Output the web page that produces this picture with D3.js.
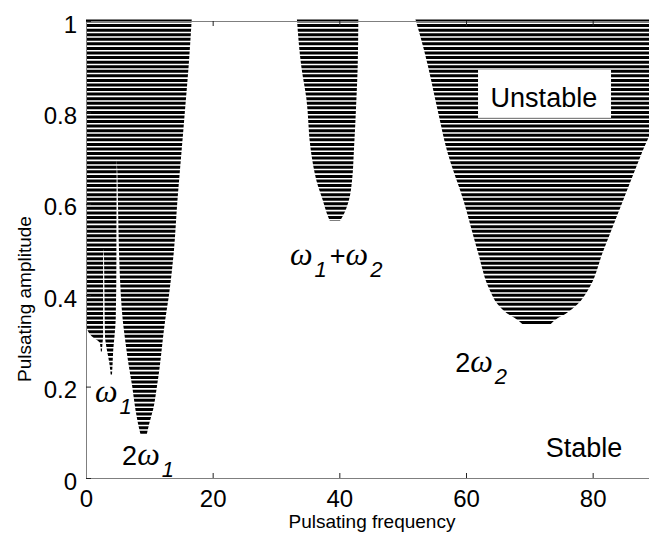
<!DOCTYPE html>
<html>
<head>
<meta charset="UTF-8">
<title>Pulsating stability chart</title>
<script src="https://cdn.jsdelivr.net/npm/d3@7"></script>
<style>
  body { margin: 0; background: #fff; }
  text { font-family: "Liberation Sans", Arial, sans-serif; }
</style>
</head>
<body>
<script>
// tick labels
var xTicks = [0, 20, 40, 60, 80];
var yTicks = [0, 0.2, 0.4, 0.6, 0.8, 1];

// unstable tongues: [amplitude, left frequency, right frequency]
var leftBand = [
  [1.00, 0, 2.7], [0.50, 0, 2.7], [0.35, 0, 2.7], [0.33, 0.1, 2.7],
  [0.31, 0.9, 2.7], [0.295, 2.2, 2.6], [0.28, 2.35, 2.5]
];
var omega1 = [
  [1.00, 2.6, 4.85], [0.70, 2.6, 4.85], [0.52, 2.6, 4.8], [0.48, 2.85, 4.8],
  [0.35, 2.95, 4.7], [0.31, 3.0, 4.5], [0.28, 3.3, 4.3], [0.25, 3.7, 4.2],
  [0.23, 3.9, 4.1]
];
var twoOmega1 = [
  [1.00, 4.8, 16.7], [0.90, 4.8, 16.2], [0.80, 4.8, 15.6], [0.70, 4.85, 15.0],
  [0.668, 4.95, 14.8], [0.60, 5.05, 14.4], [0.50, 5.2, 13.9], [0.40, 5.5, 13.1],
  [0.345, 5.8, 12.5], [0.30, 6.2, 12.1], [0.25, 6.7, 11.7], [0.20, 7.3, 11.2],
  [0.15, 7.8, 10.6], [0.12, 8.2, 10.0], [0.10, 8.6, 9.6]
];
var omegaSum = [
  [1.00, 33.3, 43.0], [0.90, 34.0, 42.9], [0.83, 34.8, 42.7], [0.716, 35.5, 42.3],
  [0.65, 36.4, 42.0], [0.607, 37.4, 41.5], [0.58, 38.0, 40.8], [0.567, 38.5, 40.1]
];
var twoOmega2 = [
  [1.00, 52.0, 95.0], [0.935, 53.4, 93.0], [0.80, 55.6, 90.5], [0.716, 57.0, 87.9],
  [0.607, 59.6, 84.8], [0.498, 61.8, 81.7], [0.41, 63.8, 79.2], [0.38, 65.0, 77.6],
  [0.36, 66.5, 75.8], [0.35, 67.7, 74.5], [0.34, 69.0, 73.3]
];
var tongues = [leftBand, omega1, twoOmega1, omegaSum, twoOmega2];

var width = 649, height = 540;
var x = d3.scaleLinear().domain([0, 90]).range([86, 656]);
var y = d3.scaleLinear().domain([0, 1]).range([478, 21]);

var svg = d3.select("body").append("svg")
  .attr("width", width)
  .attr("height", height);

// region outlines used as clip for the hatching
var area = d3.area()
  .curve(d3.curveMonotoneY)
  .y(function (d, i, arr) {
    // let the first and last stripe show in full
    var pad = i === 0 ? -2 : (i === arr.length - 1 ? 2 : 0);
    return y(d[0]) + pad;
  })
  .x0(function (d) { return x(d[1]); })
  .x1(function (d) { return x(d[2]); });

var clip = svg.append("clipPath").attr("id", "tongues");
tongues.forEach(function (t) {
  clip.append("path").attr("d", area(t));
});

// horizontal hatching, one stripe every 0.01 of amplitude
var stripeStep = 0.01;
var levels = d3.range(1, 101).map(function (k) { return k * stripeStep; });
svg.append("g")
  .attr("clip-path", "url(#tongues)")
  .selectAll("line")
  .data(levels)
  .join("line")
  .attr("x1", x(0))
  .attr("x2", x(90))
  .attr("y1", function (d) { return y(d); })
  .attr("y2", function (d) { return y(d); })
  .attr("stroke", "#000")
  .attr("stroke-width", 3);

// axes
var gx = svg.append("g")
  .attr("transform", "translate(0," + y(0) + ")")
  .call(d3.axisBottom(x).tickValues(xTicks).tickSizeInner(-5).tickSizeOuter(0).tickPadding(12));
var gt = svg.append("g")
  .attr("transform", "translate(0," + y(1) + ")")
  .call(d3.axisTop(x).tickValues(xTicks).tickSizeInner(-5).tickSizeOuter(0).tickFormat(""));
var gy = svg.append("g")
  .attr("transform", "translate(" + x(0) + ",0)")
  .call(d3.axisLeft(y).tickValues(yTicks).tickSizeInner(-5).tickSizeOuter(0).tickPadding(9)
    .tickFormat(function (d) { return String(d); }));

[gx, gt, gy].forEach(function (g) {
  g.select(".domain").attr("stroke", "#7f7f7f");
  g.selectAll(".tick line").attr("stroke", "#222");
  g.selectAll(".tick text")
    .attr("fill", "#000")
    .style("font-size", "24px")
    .style("font-family", "'Liberation Sans', Arial, sans-serif");
});
gy.selectAll(".tick text").attr("dy", "0.46em");

svg.append("text")
  .attr("x", 372)
  .attr("y", 528)
  .attr("text-anchor", "middle")
  .style("font-size", "19px")
  .text("Pulsating frequency");

svg.append("text")
  .attr("transform", "translate(31,299) rotate(-90)")
  .attr("text-anchor", "middle")
  .style("font-size", "19px")
  .text("Pulsating amplitude");

// Unstable box
svg.append("rect")
  .attr("x", x(61.9))
  .attr("y", y(0.893))
  .attr("width", x(82.9) - x(61.9))
  .attr("height", y(0.788) - y(0.893))
  .attr("fill", "#fff");
svg.append("text")
  .attr("x", x(72.3))
  .attr("y", y(0.812))
  .attr("text-anchor", "middle")
  .style("font-size", "27px")
  .text("Unstable");

svg.append("text")
  .attr("x", x(72.6))
  .attr("y", y(0.046))
  .style("font-size", "27px")
  .text("Stable");

// tongue labels
function omegaLabel(fx, fa, parts) {
  var t = svg.append("text")
    .attr("x", x(fx))
    .attr("y", y(fa))
    .style("font-size", "27px");
  parts.forEach(function (p) {
    var s = t.append("tspan").text(p.s);
    if (p.w) s.style("font-family", "'Liberation Serif', serif").style("font-style", "italic").style("font-size", "32px");
    if (p.sub) s.style("font-style", "italic").style("font-size", "22px").attr("dy", 12).attr("dx", 2);
    if (p.up) s.attr("dy", -12).attr("dx", 3);
  });
}
omegaLabel(1.42, 0.166, [{ s: "ω", w: true }, { s: "1", sub: true }]);
omegaLabel(5.7, 0.028, [{ s: "2" }, { s: "ω", w: true }, { s: "1", sub: true }]);
omegaLabel(32.2, 0.466, [{ s: "ω", w: true }, { s: "1", sub: true }, { s: "+", up: true }, { s: "ω", w: true }, { s: "2", sub: true }]);
omegaLabel(58.3, 0.232, [{ s: "2" }, { s: "ω", w: true }, { s: "2", sub: true }]);
</script>
</body>
</html>
